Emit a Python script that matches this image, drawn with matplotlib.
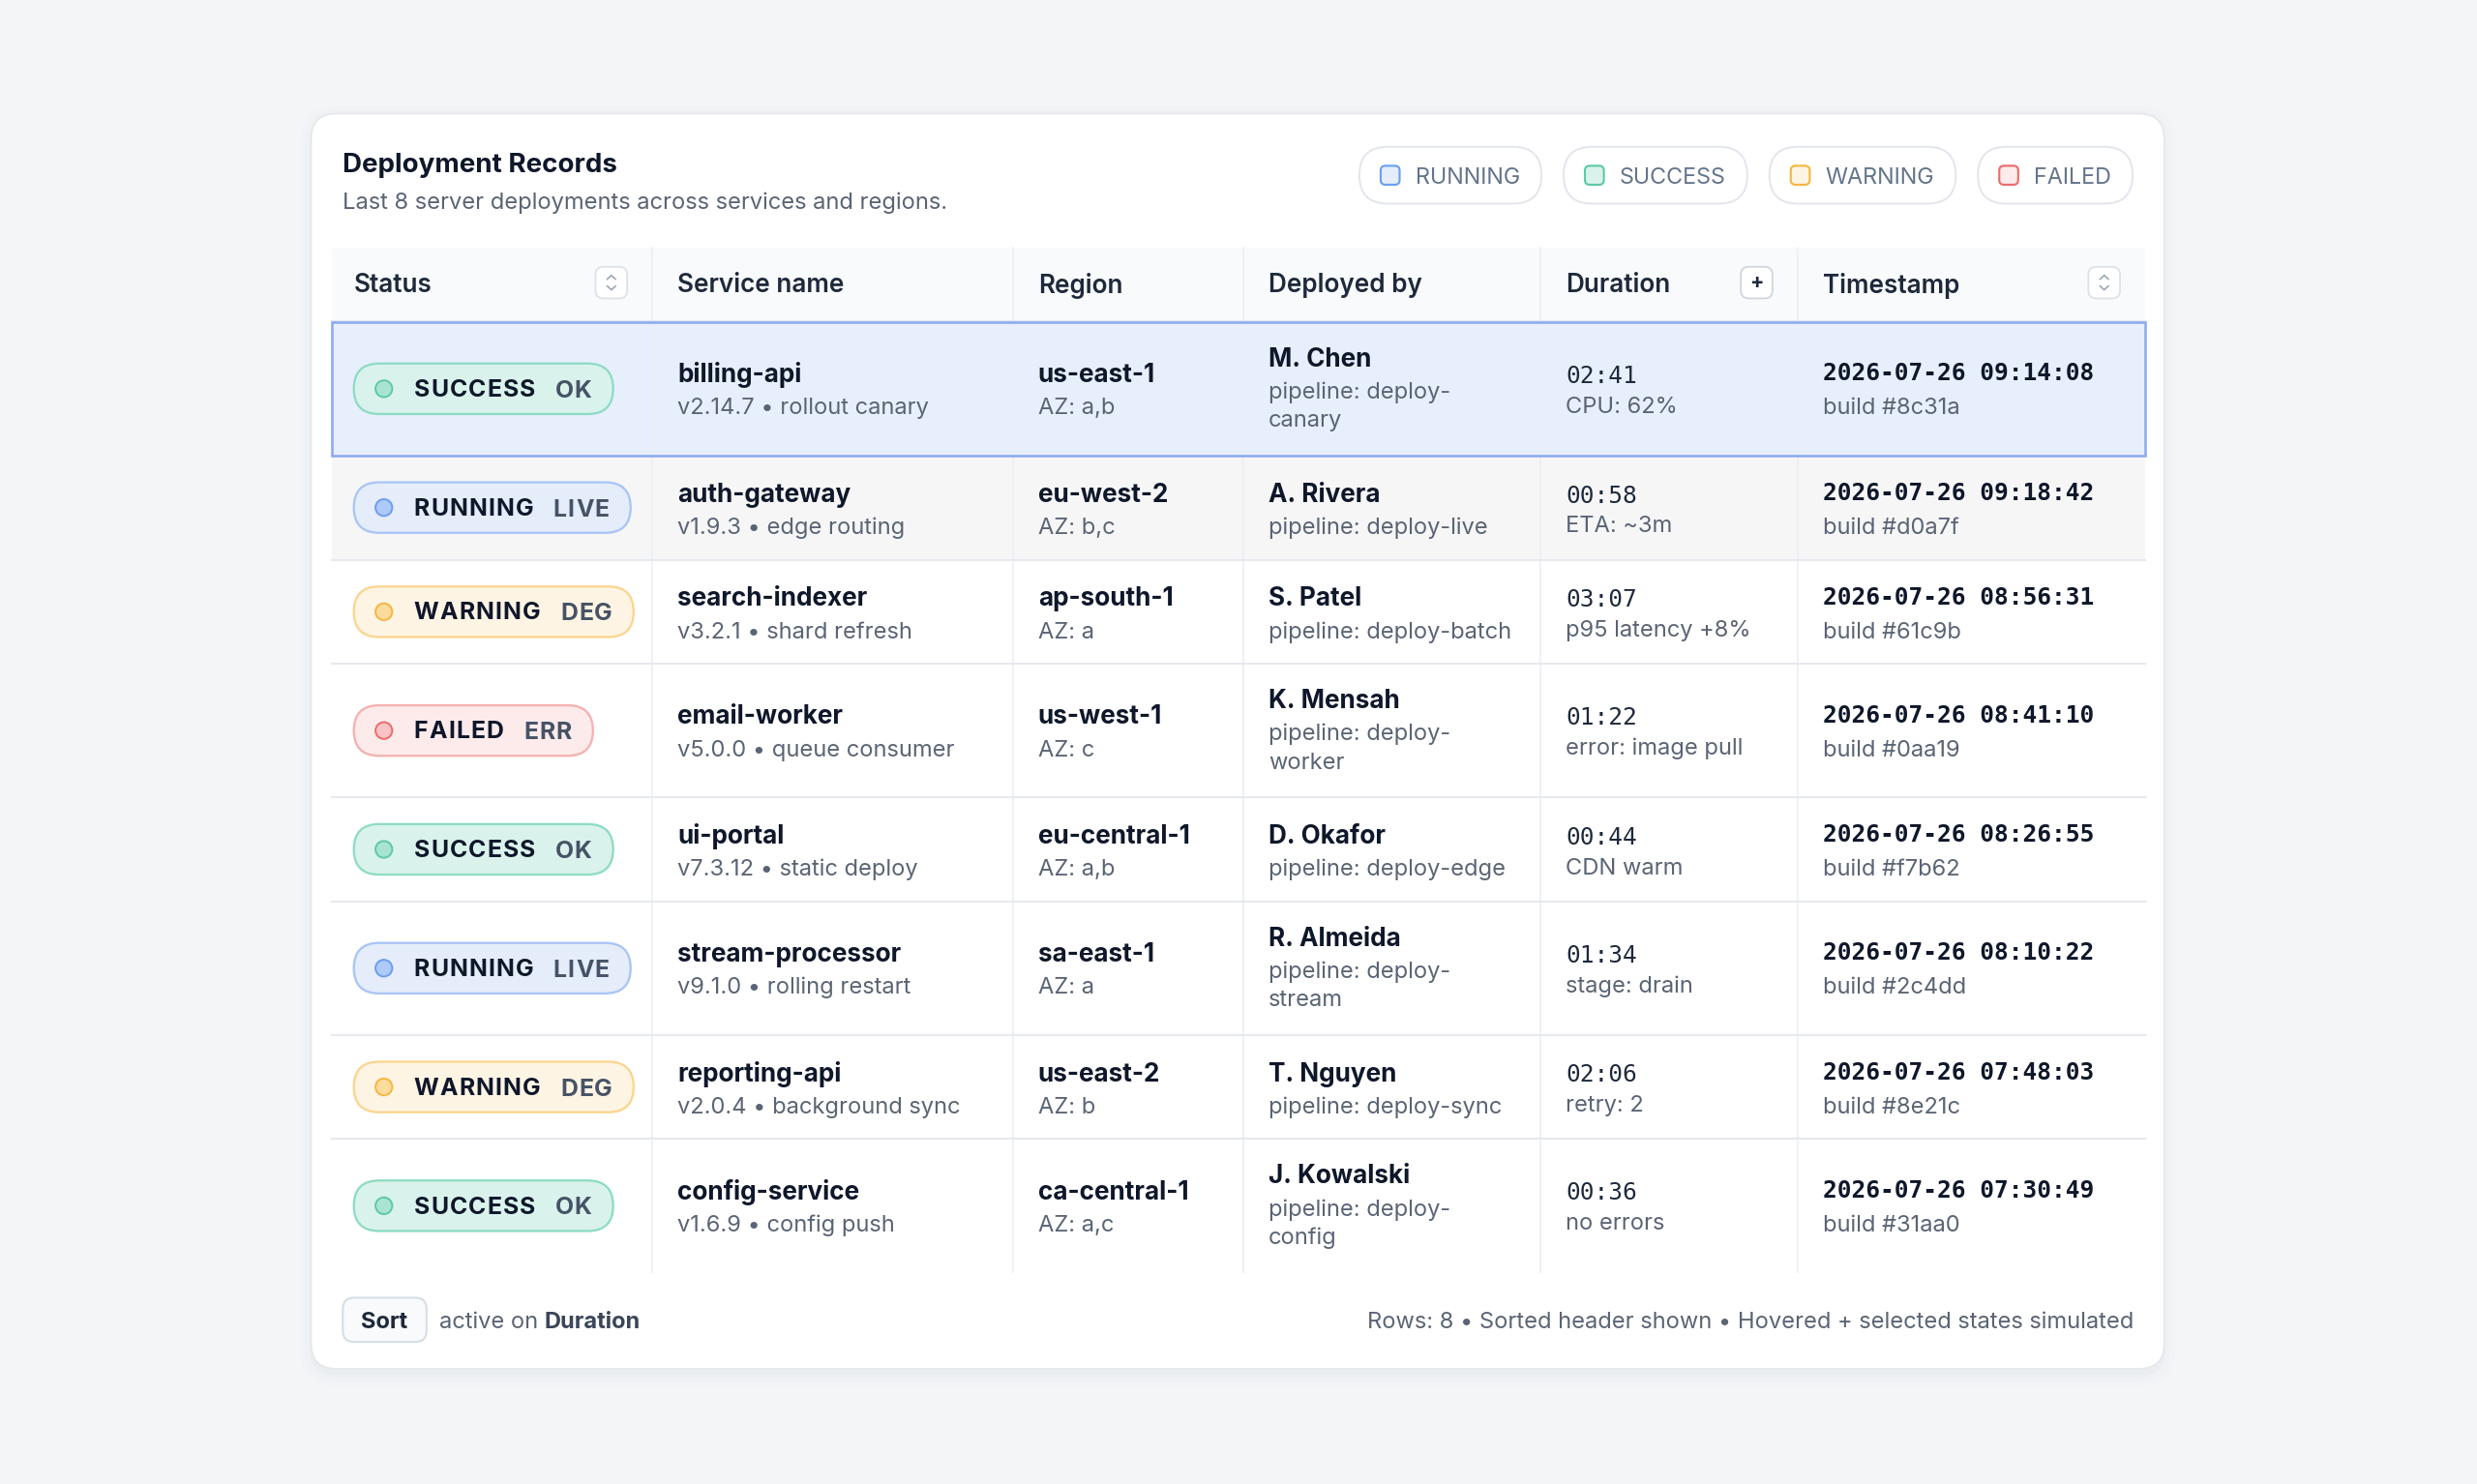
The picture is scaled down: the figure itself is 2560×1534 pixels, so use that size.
import matplotlib
matplotlib.use("Agg")
import matplotlib.pyplot as plt
from matplotlib.patches import FancyBboxPatch, Rectangle, Circle
from matplotlib.lines import Line2D

# ---------------- data ----------------
title = "Deployment Records"
subtitle = "Last 8 server deployments across services and regions."
legend_labels = ["RUNNING", "SUCCESS", "WARNING", "FAILED"]
headers = ["Status", "Service name", "Region", "Deployed by", "Duration", "Timestamp"]

statuses = ["SUCCESS", "RUNNING", "WARNING", "FAILED", "SUCCESS", "RUNNING", "WARNING", "SUCCESS"]
codes = ["OK", "LIVE", "DEG", "ERR", "OK", "LIVE", "DEG", "OK"]
services = ["billing-api", "auth-gateway", "search-indexer", "email-worker",
            "ui-portal", "stream-processor", "reporting-api", "config-service"]
service_meta = ["v2.14.7 • rollout canary", "v1.9.3 • edge routing", "v3.2.1 • shard refresh",
                "v5.0.0 • queue consumer", "v7.3.12 • static deploy", "v9.1.0 • rolling restart",
                "v2.0.4 • background sync", "v1.6.9 • config push"]
regions = ["us-east-1", "eu-west-2", "ap-south-1", "us-west-1",
           "eu-central-1", "sa-east-1", "us-east-2", "ca-central-1"]
azs = ["AZ: a,b", "AZ: b,c", "AZ: a", "AZ: c", "AZ: a,b", "AZ: a", "AZ: b", "AZ: a,c"]
deployers = ["M. Chen", "A. Rivera", "S. Patel", "K. Mensah",
             "D. Okafor", "R. Almeida", "T. Nguyen", "J. Kowalski"]
pipelines = ["pipeline: deploy-canary", "pipeline: deploy-live", "pipeline: deploy-batch",
             "pipeline: deploy-worker", "pipeline: deploy-edge", "pipeline: deploy-stream",
             "pipeline: deploy-sync", "pipeline: deploy-config"]
durations = ["02:41", "00:58", "03:07", "01:22", "00:44", "01:34", "02:06", "00:36"]
duration_notes = ["CPU: 62%", "ETA: ~3m", "p95 latency +8%", "error: image pull",
                  "CDN warm", "stage: drain", "retry: 2", "no errors"]
timestamps = ["2026-07-26 09:14:08", "2026-07-26 09:18:42", "2026-07-26 08:56:31",
              "2026-07-26 08:41:10", "2026-07-26 08:26:55", "2026-07-26 08:10:22",
              "2026-07-26 07:48:03", "2026-07-26 07:30:49"]
builds = ["build #8c31a", "build #d0a7f", "build #61c9b", "build #0aa19",
          "build #f7b62", "build #2c4dd", "build #8e21c", "build #31aa0"]
selected_row = 0
hovered_row = 1
sorted_col = "Duration"
footer_right = "Rows: 8 • Sorted header shown • Hovered + selected states simulated"

# ---------------- style ----------------
W, H = 1568, 940
S = 2560 / W
def fs(px):
    return px * S * 72 / 100
def lw(px):
    return px * S * 72 / 100

SANS = ["Inter", "DejaVu Sans"]
MONO = ["DejaVu Sans Mono"]
C_DARK = "#0f172a"
C_HEAD = "#1e293b"
C_SUB = "#5a6474"
C_LINE = "#e6e9ee"
C_VLINE = "#eceff3"
DY = 1.8   # optical offset for headings/footer
RDY = 1.0  # optical offset for row text

palette = {
    "SUCCESS": dict(fill="#d9f3ec", edge="#8edbc3", dfill="#a9e4d3", dedge="#5fc8a8"),
    "RUNNING": dict(fill="#e5ecfa", edge="#a9c5f6", dfill="#afcaf8", dedge="#6c9ef0"),
    "WARNING": dict(fill="#fef4e4", edge="#fbd58e", dfill="#fcdc9c", dedge="#f4b740"),
    "FAILED":  dict(fill="#fdebeb", edge="#f6b0b0", dfill="#f9c3c3", dedge="#ec6b6b"),
}

fig = plt.figure(figsize=(25.6, 15.34), dpi=100)
fig.patch.set_facecolor("#f4f5f7")
ax = fig.add_axes([0, 0, 1, 1])
ax.set_xlim(0, W)
ax.set_ylim(H, 0)
ax.axis("off")
renderer = fig.canvas.get_renderer()
inv = ax.transData.inverted()

def text_width(t):
    bb = t.get_window_extent(renderer)
    p0 = inv.transform((bb.x0, bb.y0))
    p1 = inv.transform((bb.x1, bb.y0))
    return p1[0] - p0[0]

def rbox(x0, y0, w, h, r, fc, ec="none", lwpx=1.0, z=1, alpha=1.0):
    p = FancyBboxPatch((x0, y0), w, h, boxstyle=f"round,pad=0,rounding_size={r}",
                       fc=fc, ec=ec, lw=lw(lwpx), zorder=z, alpha=alpha)
    ax.add_patch(p)
    return p

def txt(x, y, s, size, color, weight="normal", family=SANS, ha="left", va="center", z=10, dy=DY):
    return ax.text(x, y + dy, s, fontsize=fs(size), color=color, fontweight=weight,
                   family=family, ha=ha, va=va, zorder=z)

def spaced(x, y, s, size, color, weight="bold", spacing=0.6, z=10):
    """Draw text char by char with letter spacing; return total width."""
    cur = x
    for ch in s:
        t = txt(cur, y, ch, size, color, weight=weight, z=z)
        cur += text_width(t) + spacing
    return cur - spacing - x

# ---------------- card ----------------
cx0, cy0, cx1, cy1 = 197, 72, 1370, 867
for i, a in enumerate([0.035, 0.025, 0.015]):
    g = 2 + i * 3
    rbox(cx0 - g + 1, cy0 - g + 3, cx1 - cx0 + 2 * g - 2, cy1 - cy0 + 2 * g, 16 + g,
         "#94a3b8", z=0.5, alpha=a)
rbox(cx0, cy0, cx1 - cx0, cy1 - cy0, 16, "white", ec="#e5e7eb", lwpx=1, z=1)

txt(217, 103, title, 17, C_DARK, weight="bold")
txt(217, 127, subtitle, 14.5, C_SUB)

# ---------------- legend pills ----------------
right = 1350
for lab in reversed(legend_labels):
    t = txt(0, 111, lab, 14.3, "#64748b")
    tw = text_width(t)
    pw = 13.5 + 12 + 10 + tw + 13.5
    left = right - pw
    t.set_x(left + 13.5 + 12 + 10)
    rbox(left, 93, pw, 36, 18, "white", ec="#e2e6ec", lwpx=1.2, z=2)
    pal = palette[lab]
    rbox(left + 13.5, 105, 12, 12, 3, pal["fill"], ec=pal["dedge"], lwpx=1.3, z=3)
    right = left - 14

# ---------------- table ----------------
tx0, tx1 = 210, 1358
col_x = [210, 413, 641, 787, 975, 1138, 1358]
hy0, hy1 = 157, 203
ax.add_patch(Rectangle((tx0, hy0), tx1 - tx0, hy1 - hy0, fc="#f8fafc", ec="none", zorder=2))
ax.add_line(Line2D([tx0, tx1], [hy1 + 0.5, hy1 + 0.5], color="#e3e8ef", lw=lw(1.2), zorder=4))

for i, h in enumerate(headers):
    txt(col_x[i] + 14 + (2 if i > 0 else 0), 179, h, 16, C_HEAD, weight="semibold")

def sort_icon(xc, yc, plus=False):
    rbox(xc - 10, yc - 10, 20, 20, 5, "white", ec="#cfd6e0" if plus else "#dde2e9", lwpx=1.1, z=5)
    if plus:
        txt(xc, yc, "+", 13, C_HEAD, weight="bold", ha="center", va="center", z=6, dy=0)
    else:
        ax.add_line(Line2D([xc - 2.6, xc, xc + 2.6], [yc - 2.2, yc - 4.6, yc - 2.2],
                           color="#9aa5b5", lw=lw(1.0), zorder=6))
        ax.add_line(Line2D([xc - 2.6, xc, xc + 2.6], [yc + 2.2, yc + 4.6, yc + 2.2],
                           color="#9aa5b5", lw=lw(1.0), zorder=6))

sort_icon(387, 179)
sort_icon(1112, 179, plus=True)
sort_icon(1332, 179)

# pipeline wrapping decided by column width
dep_w = col_x[4] - col_x[3] - 30
wrapped = []
for p in pipelines:
    t = txt(0, 0, p, 14.5, C_SUB)
    w = text_width(t)
    t.remove()
    if w > dep_w:
        k = p.rfind("-") + 1
        wrapped.append([p[:k], p[k:]])
    else:
        wrapped.append([p])

row_h = [84.5 if len(wl) > 1 else 66 for wl in wrapped]
y = hy1 + 1
row_tops = []
for h in row_h:
    row_tops.append(y)
    y += h
table_bottom = y

for x in col_x[1:-1]:
    ax.add_line(Line2D([x, x], [hy0, table_bottom], color=C_VLINE, lw=lw(1.0), zorder=3))

for r in range(len(statuses)):
    top = row_tops[r]
    h = row_h[r]
    c = top + h / 2
    three = len(wrapped[r]) > 1
    if r == hovered_row:
        ax.add_patch(Rectangle((tx0, top), tx1 - tx0, h, fc="#f6f6f7", ec="none", zorder=2))
    if r == selected_row:
        ax.add_patch(Rectangle((tx0, top), tx1 - tx0, h, fc="#e8effc", ec="none", zorder=2))
    if r < len(statuses) - 1:
        ax.add_line(Line2D([tx0, tx1], [top + h, top + h], color=C_LINE, lw=lw(1.3), zorder=4))

    # badge
    st = statuses[r]
    pal = palette[st]
    w1 = spaced(262, c - 0.8, st, 15.2, C_DARK, spacing=0.7, z=8)
    code_x = 262 + w1 + 12.5
    w2 = spaced(code_x, c - 0.3, codes[r], 15.2, "#465366", spacing=0.7, z=8)
    bw = (code_x + w2 + 13.5) - 224
    rbox(224, c - 16, bw, 32, 16, pal["fill"], ec=pal["edge"], lwpx=1.4, z=6)
    ax.add_patch(Circle((243, c), 5.3, fc=pal["dfill"], ec=pal["dedge"], lw=lw(1.2), zorder=7))

    d1 = -9.5 if three else -9
    d2 = 11.5 if three else 12
    txt(col_x[1] + 16, c + d1, services[r], 16, C_DARK, weight="bold", dy=RDY)
    txt(col_x[1] + 16, c + d2, service_meta[r], 14.5, C_SUB, dy=RDY)
    txt(col_x[2] + 16, c + d1, regions[r], 16, C_DARK, weight="bold", dy=RDY)
    txt(col_x[2] + 16, c + d2, azs[r], 14.5, C_SUB, dy=RDY)
    if three:
        txt(col_x[3] + 16, c - 19.5, deployers[r], 16, C_DARK, weight="bold", dy=RDY)
        txt(col_x[3] + 16, c + 1.5, wrapped[r][0], 14.5, C_SUB, dy=RDY)
        txt(col_x[3] + 16, c + 19.5, wrapped[r][1], 14.5, C_SUB, dy=RDY)
    else:
        txt(col_x[3] + 16, c + d1, deployers[r], 16, C_DARK, weight="bold", dy=RDY)
        txt(col_x[3] + 16, c + d2, wrapped[r][0], 14.5, C_SUB, dy=RDY)
    txt(col_x[4] + 16, c + d1 + 1, durations[r], 15, C_HEAD, family=MONO, dy=0.6)
    txt(col_x[4] + 16, c + d2 - 1, duration_notes[r], 14.5, C_SUB, dy=RDY)
    txt(col_x[5] + 16, c + d1 - 0.5, timestamps[r], 15, C_DARK, weight="bold", family=MONO, dy=0.4)
    txt(col_x[5] + 16, c + d2, builds[r], 14.5, C_SUB, dy=RDY)

st_top = row_tops[selected_row]
ax.add_patch(Rectangle((tx0, st_top), tx1 - tx0, row_h[selected_row], fc="none",
                       ec="#8eabef", lw=lw(1.6), zorder=9))

# ---------------- footer ----------------
fy = 836
rbox(217, 822, 53, 28, 7, "#f8fafc", ec="#d5dce6", lwpx=1.2, z=3)
txt(243.5, fy, "Sort", 14.5, C_HEAD, weight="bold", ha="center")
ta = txt(278, fy, "active on ", 14.5, C_SUB)
wa = text_width(ta)
txt(278 + wa, fy, sorted_col, 14.5, "#3b4658", weight="bold")
txt(1351, fy, footer_right, 14.5, C_SUB, ha="right")

fig.savefig("out.png", dpi=100, facecolor=fig.get_facecolor())
